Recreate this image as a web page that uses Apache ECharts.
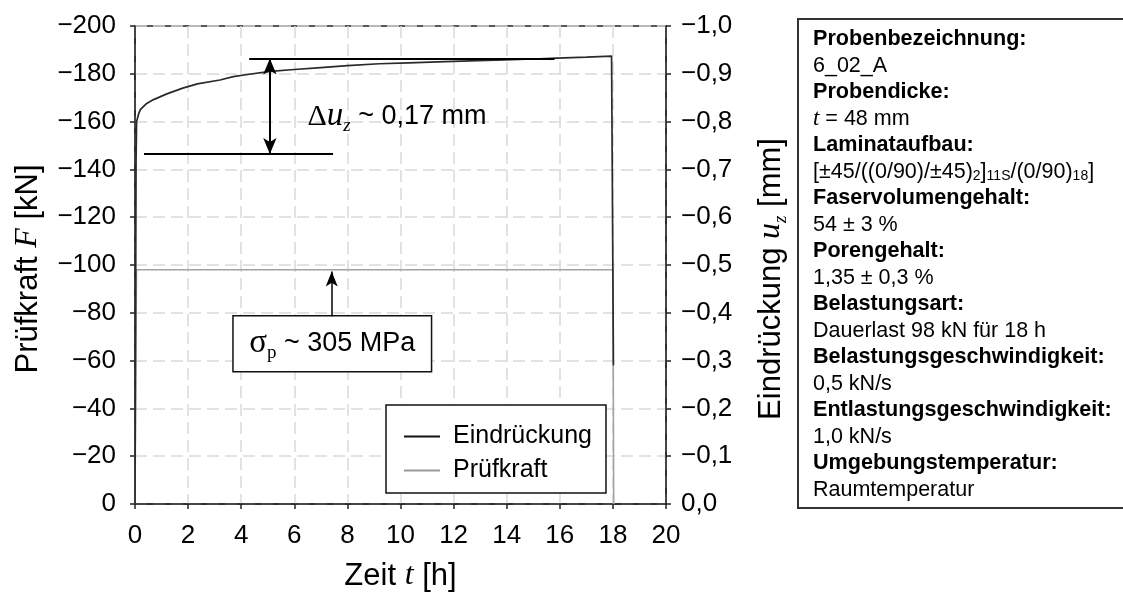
<!DOCTYPE html>
<html>
<head>
<meta charset="utf-8">
<script src="https://cdn.jsdelivr.net/npm/echarts@6/dist/echarts.min.js"></script>
<style>
  html, body { margin: 0; padding: 0; background: #fff; }
  #chart { width: 1123px; height: 592px; }
</style>
</head>
<body>
<div id="chart"></div>
<script>
// Indentation u_z [mm] during the 18 h sustained load (time t in h)
const indentTime  = [0, 0.04, 0.06, 0.13, 0.2, 0.44, 0.7, 1.2, 1.8, 2.35, 3.2, 3.7, 4.3, 5.1, 6.0, 7.0, 8.0, 9.2, 10.3, 11.4, 12.6, 13.9, 15.0, 15.9, 17.0, 17.95, 18.02];
const indentValue = [0, -0.72, -0.80, -0.815, -0.825, -0.838, -0.846, -0.858, -0.870, -0.879, -0.887, -0.894, -0.899, -0.905, -0.909, -0.913, -0.917, -0.921, -0.923, -0.925, -0.927, -0.929, -0.931, -0.933, -0.935, -0.937, -0.29];

// Test force F [kN]
const forceTime  = [0, 0.054, 18.0, 18.03];
const forceValue = [0, -98, -98, 0];

// Axis ticks
const timeTicks  = [0, 20, 2];        // min, max, step [h]
const forceTicks = [-200, 0, 20];     // [kN]
const indentTicks = [-1, 0, 0.1];     // [mm]

// Creep annotation (indentation increase during hold)
const creepLevels = [-0.932, -0.732];         // upper / lower reference level [mm]
const creepUpperSpan = [4.3, 15.8];           // [h]
const creepLowerSpan = [0.34, 7.46];          // [h]
const creepArrowTime = 5.08;                  // [h]
const creepLabel = ['Δ', 'u', 'z', ' ~ 0,17 mm'];

// Load level annotation
const stressArrow = [7.41, -78.6, -97.3];     // t, from, to [kN]
const stressBox = [3.69, -78.8, 11.17, -55.3];
const stressLabel = ['σ', 'p', ' ~ 305 MPa'];

// Specimen data sheet
const infoFields = [
  ['Probenbezeichnung:', '6_02_A'],
  ['Probendicke:', '{i|t} = 48 mm'],
  ['Laminataufbau:', '[±45/((0/90)/±45){s|2}]{s|11S}/(0/90){s|18}]'],
  ['Faservolumengehalt:', '54 ± 3 %'],
  ['Porengehalt:', '1,35 ± 0,3 %'],
  ['Belastungsart:', 'Dauerlast 98 kN für 18 h'],
  ['Belastungsgeschwindigkeit:', '0,5 kN/s'],
  ['Entlastungsgeschwindigkeit:', '1,0 kN/s'],
  ['Umgebungstemperatur:', 'Raumtemperatur']
];

const SANS = '"Liberation Sans", Arial, sans-serif';
const SERIF = '"Liberation Serif", "Times New Roman", serif';
const AXIS = '#222';

const chart = echarts.init(document.getElementById('chart'), null, { renderer: 'canvas' });

const pairs = (xs, ys) => xs.map((x, i) => [x, ys[i]]);
const minus = s => String(s).replace('-', '\u2212');
const comma = v => (Math.abs(v) < 1e-9 ? '0,0' : minus(v.toFixed(1).replace('.', ',')));

const axisCommon = {
  axisLine: { onZero: false, lineStyle: { color: AXIS, width: 1.5 } },
  axisTick: { length: 5, lineStyle: { color: AXIS, width: 1.5 } },
  axisLabel: { fontFamily: SANS, fontSize: 26, color: '#000' },
  nameLocation: 'middle'
};
const titleStyle = (pad) => ({
  fontFamily: SANS, fontSize: 31, color: '#000', padding: pad,
  rich: {
    i: { fontFamily: SERIF, fontStyle: 'italic', fontSize: 32, color: '#000' },
    s: { fontFamily: SERIF, fontStyle: 'italic', fontSize: 19, color: '#000', verticalAlign: 'bottom', lineHeight: 19 },
    n: { fontFamily: SANS, fontSize: 31, color: '#000', lineHeight: 38 }
  }
});

const option = {
  animation: false,
  backgroundColor: '#fff',
  grid: {
    left: 135, right: 457, top: 26, bottom: 88,
    containLabel: false, outerBoundsMode: 'none',
    show: true, borderColor: AXIS, borderWidth: 1.5, backgroundColor: 'transparent'
  },
  legend: {
    left: 386, top: 405, orient: 'vertical',
    data: ['Eindrückung', 'Prüfkraft'],
    icon: 'rect', itemWidth: 36, itemHeight: 2, itemGap: 9,
    padding: [19, 14, 10, 18],
    borderColor: '#111', borderWidth: 1.5, backgroundColor: '#fff',
    selectedMode: false,
    textStyle: { fontFamily: SANS, fontSize: 25, color: '#000', lineHeight: 25, padding: [0, 0, 0, 8] }
  },
  xAxis: Object.assign({}, axisCommon, {
    type: 'value', min: timeTicks[0], max: timeTicks[1], interval: timeTicks[2],
    name: '{n|Zeit }{i|t}{n| [h]}', nameGap: 53, nameTextStyle: titleStyle([0, 0, 0, 0]),
    axisLabel: Object.assign({}, axisCommon.axisLabel, { margin: 19 }),
    splitLine: { show: true, lineStyle: { color: '#d9d9d9', width: 1.5, type: [12, 6] } }
  }),
  yAxis: [
    Object.assign({}, axisCommon, {
      type: 'value', position: 'left', inverse: true,
      min: forceTicks[0], max: forceTicks[1], interval: forceTicks[2],
      name: '{n|Prüfkraft }{i|F}{n| [kN]}', nameGap: 88, nameRotate: 90, nameTextStyle: titleStyle([0, 8, 0, 0]),
      axisLabel: Object.assign({}, axisCommon.axisLabel, { margin: 19, formatter: minus }),
      splitLine: { show: true, lineStyle: { color: '#d9d9d9', width: 1.5, type: [12, 6] } }
    }),
    Object.assign({}, axisCommon, {
      type: 'value', position: 'right', inverse: true,
      min: indentTicks[0], max: indentTicks[1], interval: indentTicks[2],
      name: '{n|Eindrückung }{i|u}{s|z}{n| [mm]}', nameGap: 86, nameRotate: 90, nameTextStyle: titleStyle([0, 28, 0, 0]),
      axisLabel: Object.assign({}, axisCommon.axisLabel, { margin: 15, formatter: comma }),
      splitLine: { show: false }
    })
  ],
  series: [
    {
      name: 'Eindrückung', type: 'line', xAxisIndex: 0, yAxisIndex: 1,
      data: pairs(indentTime, indentValue),
      symbol: 'none', showSymbol: false, smooth: false,
      lineStyle: { color: '#2a2a2a', width: 1.7 },
      itemStyle: { color: '#111' },
      z: 3,
      markLine: {
        silent: true, animation: false,
        symbol: ['none', 'none'],
        label: { show: false },
        emphasis: { disabled: true },
        lineStyle: { color: '#000', width: 2, type: 'solid' },
        data: [
          [{ coord: [creepUpperSpan[0], creepLevels[0]] }, { coord: [creepUpperSpan[1], creepLevels[0]] }],
          [{ coord: [creepLowerSpan[0], creepLevels[1]] }, { coord: [creepLowerSpan[1], creepLevels[1]] }],
          [
            { coord: [creepArrowTime, creepLevels[0]], symbol: 'arrow', symbolSize: [10, 16] },
            { coord: [creepArrowTime, creepLevels[1]], symbol: 'arrow', symbolSize: [10, 16] }
          ]
        ]
      }
    },
    {
      name: 'Prüfkraft', type: 'line', xAxisIndex: 0, yAxisIndex: 0,
      data: pairs(forceTime, forceValue),
      symbol: 'none', showSymbol: false,
      lineStyle: { color: '#a3a3a3', width: 1.6 },
      itemStyle: { color: '#999' },
      z: 2,
      markLine: {
        silent: true, animation: false,
        label: { show: false },
        emphasis: { disabled: true },
        lineStyle: { color: '#000', width: 1.5, type: 'solid' },
        data: [[
          { coord: [stressArrow[0], stressArrow[1]], symbol: 'none' },
          { coord: [stressArrow[0], stressArrow[2]], symbol: 'arrow', symbolSize: [9, 15] }
        ]]
      },
      markArea: {
        silent: true,
        emphasis: { disabled: true },
        itemStyle: { color: '#fff', borderColor: '#111', borderWidth: 1.5 },
        label: {
          show: true, position: 'inside',
          formatter: '{s|' + stressLabel[0] + '}{p|' + stressLabel[1] + '}{t|' + stressLabel[2] + '}',
          rich: {
            s: { fontFamily: SERIF, fontSize: 33, color: '#000', lineHeight: 38 },
            p: { fontFamily: SERIF, fontSize: 19, color: '#000', lineHeight: 19, verticalAlign: 'bottom' },
            t: { fontFamily: SANS, fontSize: 27, color: '#000', lineHeight: 38 }
          }
        },
        data: [[{ coord: [stressBox[0], stressBox[1]] }, { coord: [stressBox[2], stressBox[3]] }]]
      }
    }
  ]
};

chart.setOption(option);

// Creep label and the specimen data sheet
const creepAt = chart.convertToPixel({ xAxisIndex: 0, yAxisIndex: 1 }, [6.5, -0.81]);
const graphics = [
  {
    type: 'text', x: creepAt[0], y: creepAt[1], z: 10,
    style: {
      text: '{d|' + creepLabel[0] + '}{u|' + creepLabel[1] + '}{z|' + creepLabel[2] + '}{t|' + creepLabel[3] + '}',
      verticalAlign: 'middle', align: 'left',
      rich: {
        d: { fontFamily: SERIF, fontSize: 30, fill: '#000', lineHeight: 38 },
        u: { fontFamily: SERIF, fontStyle: 'italic', fontSize: 33, fill: '#000', lineHeight: 38 },
        z: { fontFamily: SERIF, fontStyle: 'italic', fontSize: 19, fill: '#000', lineHeight: 19, verticalAlign: 'bottom' },
        t: { fontFamily: SANS, fontSize: 27, fill: '#000', lineHeight: 38 }
      }
    }
  },
  {
    type: 'rect', z: 1,
    shape: { x: 798, y: 19, width: 340, height: 489 },
    style: { fill: '#fff', stroke: '#333', lineWidth: 2 }
  }
];
infoFields.forEach((f, k) => {
  const yHead = 39.4 + (2 * k) * 26.5;
  graphics.push({
    type: 'text', x: 813, y: yHead, z: 2,
    style: { text: f[0], fontFamily: SANS, fontWeight: 'bold', fontSize: 21.6, fill: '#000', verticalAlign: 'middle' }
  });
  graphics.push({
    type: 'text', x: 813, y: yHead + 26.5, z: 2,
    style: {
      text: f[1], fontFamily: SANS, fontSize: 21.5, fill: '#000', verticalAlign: 'middle',
      rich: {
        i: { fontFamily: SERIF, fontStyle: 'italic', fontSize: 23, fill: '#000', lineHeight: 26 },
        s: { fontFamily: SANS, fontSize: 14, fill: '#000', lineHeight: 14, verticalAlign: 'bottom' }
      }
    }
  });
});
chart.setOption({ graphic: graphics });
</script>
</body>
</html>
